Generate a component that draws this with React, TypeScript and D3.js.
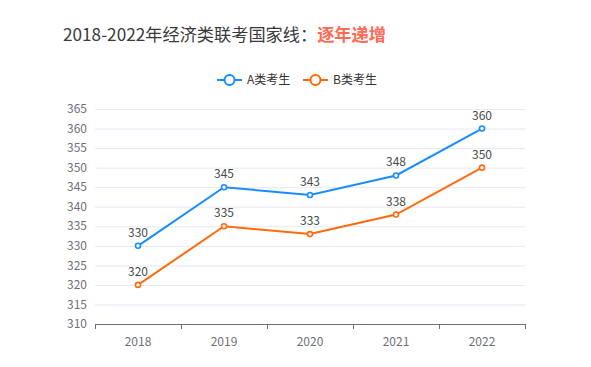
import React, { useEffect, useRef } from "react";
import * as d3 from "d3";

const years = ["2018", "2019", "2020", "2021", "2022"];
const seriesA = [330, 345, 343, 348, 360];
const seriesB = [320, 335, 333, 338, 350];
const yTicks = [310, 315, 320, 325, 330, 335, 340, 345, 350, 355, 360, 365];
const seriesNames = ["A类考生", "B类考生"];

const W = 591;
const H = 367;
const FONT = "'Noto Sans CJK SC', 'Noto Sans', sans-serif";

const App: React.FC = () => {
  const svgRef = useRef<SVGSVGElement | null>(null);

  useEffect(() => {
    if (!svgRef.current) return;
    const svg = d3.select(svgRef.current);
    svg.selectAll("*").remove();

    const margin = { top: 109, right: 66, bottom: 43, left: 95 };
    const innerW = W - margin.left - margin.right;
    const innerH = H - margin.top - margin.bottom;

    // title
    const title = svg
      .append("text")
      .attr("x", 63)
      .attr("y", 41)
      .attr("font-family", FONT)
      .attr("font-size", 17.2)
      .attr("fill", "#3a3a3a");
    title.append("tspan").text("2018-2022年经济类联考国家线：");
    title
      .append("tspan")
      .attr("font-weight", "bold")
      .attr("fill", "#ff6a55")
      .text("逐年递增");

    const x = d3.scaleBand().domain(years).range([0, innerW]);
    const y = d3.scaleLinear().domain([310, 365]).range([innerH, 0]);

    const g = svg
      .append("g")
      .attr("transform", `translate(${margin.left},${margin.top})`);

    // grid lines
    g.selectAll(".grid")
      .data(yTicks.slice(1))
      .enter()
      .append("line")
      .attr("x1", 0)
      .attr("x2", innerW)
      .attr("y1", (d) => y(d) + 0.5)
      .attr("y2", (d) => y(d) + 0.5)
      .attr("stroke", "#e6e9f2")
      .attr("stroke-width", 1);

    // y labels
    g.selectAll(".ylab")
      .data(yTicks)
      .enter()
      .append("text")
      .attr("x", -8)
      .attr("y", (d) => y(d))
      .attr("dy", "0.35em")
      .attr("text-anchor", "end")
      .attr("font-family", FONT)
      .attr("font-size", 12)
      .attr("fill", "#6e7079")
      .text((d) => d);

    // x axis
    const xAxis = g
      .append("g")
      .attr("transform", `translate(0,${innerH})`)
      .call(d3.axisBottom(x).tickSize(0).tickPadding(13));
    xAxis.select(".domain").attr("stroke", "#6e7079");
    xAxis
      .selectAll("text")
      .attr("font-family", FONT)
      .attr("font-size", 12)
      .attr("fill", "#6e7079");
    // boundary ticks between categories
    const bounds = years.map((d) => x(d) ?? 0).concat([innerW]);
    g.selectAll(".btick")
      .data(bounds)
      .enter()
      .append("line")
      .attr("x1", (d) => Math.round(d) + 0.5)
      .attr("x2", (d) => Math.round(d) + 0.5)
      .attr("y1", innerH)
      .attr("y2", innerH + 5)
      .attr("stroke", "#6e7079");

    const cx = (d: string) => (x(d) ?? 0) + x.bandwidth() / 2;
    const series = [
      { name: seriesNames[0], values: seriesA, color: "#1a8cff" },
      { name: seriesNames[1], values: seriesB, color: "#ff6a0d" },
    ];

    const line = d3
      .line<number>()
      .x((_, i) => cx(years[i]))
      .y((d) => y(d));

    series.forEach((s) => {
      g.append("path")
        .datum(s.values)
        .attr("d", line)
        .attr("fill", "none")
        .attr("stroke", s.color)
        .attr("stroke-width", 2);
      g.selectAll(null)
        .data(s.values)
        .enter()
        .append("circle")
        .attr("cx", (_, i) => cx(years[i]))
        .attr("cy", (d) => y(d))
        .attr("r", 2.5)
        .attr("fill", "#fff")
        .attr("stroke", s.color)
        .attr("stroke-width", 1.6);
      g.selectAll(null)
        .data(s.values)
        .enter()
        .append("text")
        .attr("x", (_, i) => cx(years[i]))
        .attr("y", (d) => y(d) - 9)
        .attr("text-anchor", "middle")
        .attr("font-family", FONT)
        .attr("font-size", 12)
        .attr("fill", "#4a4a4a")
        .text((d) => d);
    });

    // legend
    const legendX = [217, 303];
    series.forEach((s, i) => {
      const lg = svg
        .append("g")
        .attr("transform", `translate(${legendX[i]},80)`);
      lg.append("line")
        .attr("x1", 0)
        .attr("x2", 25)
        .attr("y1", 0)
        .attr("y2", 0)
        .attr("stroke", s.color)
        .attr("stroke-width", 2);
      lg.append("circle")
        .attr("cx", 12.5)
        .attr("cy", 0)
        .attr("r", 5)
        .attr("fill", "#fff")
        .attr("stroke", s.color)
        .attr("stroke-width", 2);
      lg.append("text")
        .attr("x", 30)
        .attr("y", 0)
        .attr("dy", "0.35em")
        .attr("font-family", FONT)
        .attr("font-size", 12)
        .attr("fill", "#333")
        .text(s.name);
    });
  }, []);

  return (
    <svg
      ref={svgRef}
      width={W}
      height={H}
      style={{ position: "absolute", left: 0, top: 0, background: "#fff" }}
    />
  );
};

export default App;
